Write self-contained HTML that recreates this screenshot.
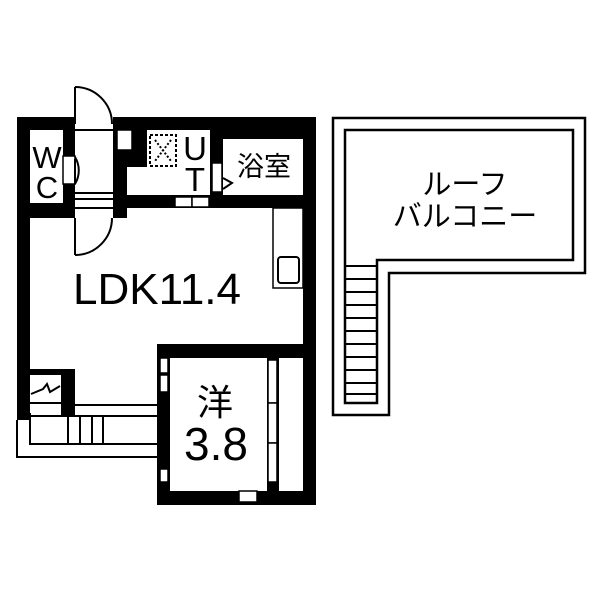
<!DOCTYPE html>
<html><head><meta charset="utf-8"><style>html,body{margin:0;padding:0;background:#fff}svg{display:block}text{font-family:"Liberation Sans","Noto Sans CJK JP",sans-serif;fill:#000}</style></head><body>
<svg width="600" height="600" viewBox="0 0 600 600" xmlns="http://www.w3.org/2000/svg">
<rect width="600" height="600" fill="#fff"/>
<path d="M333,118 H585 V273 H389 V415 H333 Z" fill="none" stroke="#000" stroke-width="2.5"/>
<path d="M345,130 H573 V260 H377 V403 H345 Z" fill="none" stroke="#000" stroke-width="2.5"/>
<g stroke="#000" stroke-width="2">
<line x1="345" y1="266" x2="377" y2="266"/><line x1="345" y1="279" x2="377" y2="279"/><line x1="345" y1="292" x2="377" y2="292"/><line x1="345" y1="305" x2="377" y2="305"/><line x1="345" y1="318" x2="377" y2="318"/><line x1="345" y1="331" x2="377" y2="331"/><line x1="345" y1="344" x2="377" y2="344"/><line x1="345" y1="357" x2="377" y2="357"/><line x1="345" y1="370" x2="377" y2="370"/><line x1="345" y1="383" x2="377" y2="383"/><line x1="345" y1="394" x2="377" y2="394"/>
</g>
<text x="465" y="194" font-size="29" text-anchor="middle">ルーフ</text>
<text x="465" y="226" font-size="29" text-anchor="middle">バルコニー</text>

<g fill="#000">
<rect x="17" y="117" width="299" height="13"/>
<rect x="17" y="117" width="13" height="303"/>
<rect x="303" y="117" width="13" height="388"/>
<rect x="223" y="117" width="80" height="22"/>
<rect x="113" y="117" width="34" height="50"/>
<rect x="113" y="150" width="14" height="68"/>
<rect x="125" y="195" width="178" height="13"/>
<rect x="210" y="130" width="13" height="78"/>
<rect x="30" y="203" width="45" height="15"/>
<rect x="63" y="130" width="12" height="88"/>
<rect x="157" y="344" width="159" height="14"/>
<rect x="157" y="344" width="13" height="161"/>
<rect x="157" y="491" width="159" height="14"/>
<rect x="267" y="358" width="12" height="133"/>
<rect x="30" y="369" width="45" height="6"/>
<rect x="61" y="369" width="14" height="47"/>
</g>
<g fill="#fff" stroke="#000" stroke-width="1.5">
<rect x="75" y="117" width="38" height="101" stroke="none"/>
<rect x="117" y="130" width="15" height="20"/>
<rect x="63" y="156" width="12" height="28"/>
<rect x="212" y="163" width="10" height="29"/>
<rect x="175" y="197" width="17" height="10"/>
<rect x="192" y="197" width="17" height="10"/>
<rect x="160" y="358" width="8" height="15"/>
<rect x="160" y="375" width="8" height="17"/>
<rect x="160" y="469" width="8" height="13"/>
<rect x="239" y="491" width="18" height="11"/>
<rect x="268" y="360" width="9" height="43"/>
<rect x="268" y="403" width="9" height="40"/>
<rect x="268" y="443" width="9" height="39"/>
</g>
<g stroke="#000" stroke-width="2" fill="none">
<line x1="75" y1="130" x2="113" y2="130"/>
<line x1="75" y1="193" x2="113" y2="193"/>
<line x1="75" y1="199" x2="113" y2="199"/>
<line x1="75" y1="208" x2="113" y2="208"/>
<line x1="75" y1="87" x2="75" y2="124"/>
<path d="M75,87 A37,37 0 0 1 112,124"/>
<line x1="75" y1="218" x2="75" y2="255"/>
<path d="M112,218 A37,37 0 0 1 75,255"/>
<line x1="75" y1="159" x2="75" y2="184"/>
<path d="M75,157 A26,26 0 0 1 75,184"/>
<path d="M223,178 L232,183 L223,189"/>
<rect x="273" y="208" width="30" height="80" stroke-width="1.5"/>
<rect x="278" y="257" width="21" height="26" rx="3"/>
<path d="M17,420 V457 H157"/>
<path d="M30,413 V444 H157"/>
<line x1="30" y1="403" x2="61" y2="403"/>
<line x1="30" y1="416" x2="157" y2="416"/>
<line x1="75" y1="405" x2="157" y2="405"/>
<line x1="68" y1="416" x2="68" y2="444"/>
<line x1="80" y1="416" x2="80" y2="444"/>
<line x1="92" y1="416" x2="92" y2="444"/>
<line x1="103" y1="416" x2="103" y2="444"/>
<path d="M31,394 L43,389 L47,384 L50,392 L60,386" stroke-width="2"/>
</g>
<rect x="150" y="135" width="26" height="31" fill="none" stroke="#000" stroke-width="2" stroke-dasharray="3,2"/>
<g stroke="#000" stroke-width="2" stroke-dasharray="2,2"><line x1="155" y1="140" x2="171" y2="161"/><line x1="171" y1="140" x2="155" y2="161"/></g>
<text x="47" y="168" font-size="31" text-anchor="middle">W</text>
<text x="47" y="198" font-size="31" text-anchor="middle">C</text>
<text x="195" y="160" font-size="33" text-anchor="middle">U</text>
<text x="195" y="191" font-size="33" text-anchor="middle">T</text>
<text x="264" y="176" font-size="27" text-anchor="middle">浴室</text>
<text x="157" y="304" font-size="44" text-anchor="middle">LDK11.4</text>
<text x="215" y="415" font-size="36" text-anchor="middle">洋</text>
<text x="216" y="460" font-size="46" text-anchor="middle">3.8</text>
</svg>
</body></html>
